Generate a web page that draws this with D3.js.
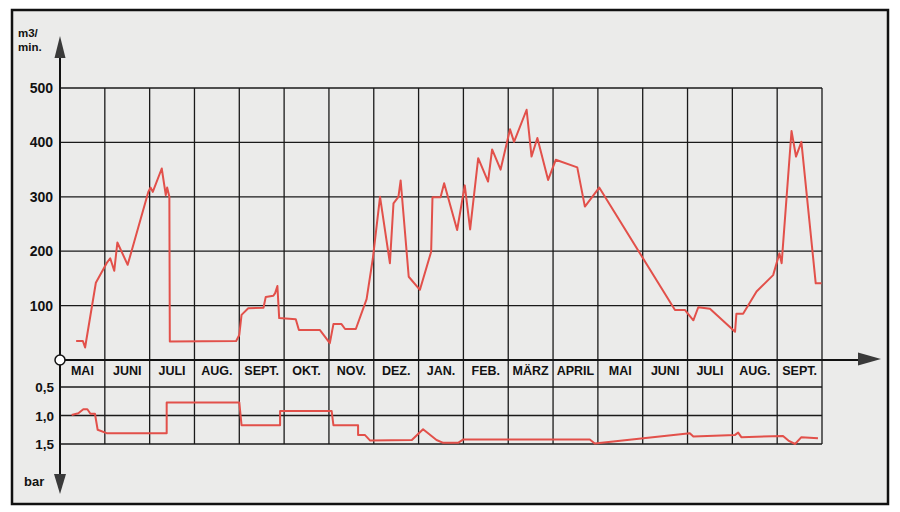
<!DOCTYPE html>
<html>
<head>
<meta charset="utf-8">
<script src="https://cdn.jsdelivr.net/npm/d3@7"></script>
<style>
  body { margin: 0; background: #fff; }
  text { font-family: "Liberation Sans", Arial, sans-serif; font-weight: bold; fill: #111; }
</style>
</head>
<body>
<div id="chart"></div>
<script>
// month columns along the x axis
var months = ["MAI", "JUNI", "JULI", "AUG.", "SEPT.", "OKT.", "NOV.", "DEZ.", "JAN.", "FEB.", "MÄRZ", "APRIL", "MAI", "JUNI", "JULI", "AUG.", "SEPT."];
var flowTicks = [100, 200, 300, 400, 500];
var barTicks = [0.5, 1.0, 1.5];
var barTickLabels = ["0,5", "1,0", "1,5"];

// air volume, m3/min (position in months from start of MAI)
var flowMonth = [0.36, 0.51, 0.56, 0.80, 1.04, 1.12, 1.21, 1.28, 1.51, 1.97, 2.02, 2.07, 2.27, 2.36, 2.39, 2.44, 2.45,
  3.93, 4.0, 4.05, 4.2, 4.54, 4.59, 4.76, 4.8, 4.85, 4.89, 5.26, 5.33, 5.8, 6.02, 6.1, 6.28, 6.36, 6.6,
  6.84, 6.98, 7.14, 7.36, 7.44, 7.55, 7.6, 7.78, 8.03, 8.28, 8.31, 8.49, 8.57, 8.86, 9.03, 9.15, 9.33,
  9.55, 9.64, 9.83, 10.04, 10.13, 10.41, 10.52, 10.65, 10.89, 11.06, 11.54, 11.71, 12.03,
  13.72, 13.94, 14.13, 14.24, 14.5, 15.06, 15.09, 15.24, 15.54, 15.91, 16.05, 16.1, 16.32, 16.42, 16.54, 16.86, 16.99];
var flowValue = [35, 35, 23, 142, 178, 187, 164, 216, 175, 309, 317, 309, 352, 303, 317, 300, 34,
  35, 46, 83, 95, 96, 116, 118, 123, 136, 77, 75, 55, 55, 31, 66, 66, 57, 57,
  112, 187, 300, 178, 288, 300, 330, 153, 129, 199, 299, 299, 325, 239, 321, 240, 371,
  328, 387, 350, 424, 401, 460, 374, 408, 331, 368, 354, 282, 317,
  92, 92, 73, 97, 94, 52, 85, 85, 126, 156, 196, 178, 421, 374, 401, 141, 141];

// pressure, bar
var barMonth = [0.26, 0.41, 0.52, 0.61, 0.68, 0.78, 0.84, 1.04, 2.38, 2.38, 4.0, 4.05, 4.91, 4.91, 6.06, 6.1,
  6.65, 6.65, 6.8, 6.92, 7.85, 8.1, 8.4, 8.55, 8.88, 9.0, 11.82, 11.93, 14.05, 14.13, 15.06, 15.13, 15.2,
  16.13, 16.25, 16.4, 16.54, 16.91];
var barValue = [0.99, 0.96, 0.89, 0.89, 0.97, 0.97, 1.25, 1.31, 1.31, 0.77, 0.77, 1.17, 1.17, 0.92, 0.92, 1.17,
  1.17, 1.34, 1.34, 1.44, 1.43, 1.24, 1.43, 1.48, 1.48, 1.42, 1.42, 1.49, 1.31, 1.37, 1.34, 1.30, 1.38,
  1.36, 1.44, 1.5, 1.38, 1.4];

var width = 900, height = 512;
var red = "#e2504a";

var svg = d3.select("#chart").append("svg")
  .attr("width", width)
  .attr("height", height);

// panel with frame
svg.append("rect")
  .attr("x", 12).attr("y", 10)
  .attr("width", 876).attr("height", 494)
  .attr("fill", "#ebebea")
  .attr("stroke", "#111")
  .attr("stroke-width", 2.5);

var x = d3.scaleLinear().domain([0, months.length]).range([60, 822]);
var yFlow = d3.scaleLinear().domain([0, 500]).range([360, 88]);
var yBar = d3.scaleLinear().domain([0.5, 1.5]).range([387, 444]);

var grid = svg.append("g")
  .attr("stroke", "#1a1a1a")
  .attr("stroke-width", 1.3);

// vertical month lines
grid.selectAll(".v")
  .data(d3.range(1, months.length + 1))
  .enter().append("line")
  .attr("x1", d => x(d)).attr("x2", d => x(d))
  .attr("y1", yFlow(500)).attr("y2", yBar(1.5));

grid.selectAll(".hf")
  .data(flowTicks)
  .enter().append("line")
  .attr("x1", x(0)).attr("x2", x(months.length))
  .attr("y1", d => yFlow(d)).attr("y2", d => yFlow(d));

grid.selectAll(".hb")
  .data(barTicks)
  .enter().append("line")
  .attr("x1", x(0)).attr("x2", x(months.length))
  .attr("y1", d => yBar(d)).attr("y2", d => yBar(d));

// tick labels
svg.selectAll(".fl")
  .data(flowTicks)
  .enter().append("text")
  .attr("x", 53).attr("y", d => yFlow(d) + 5)
  .attr("text-anchor", "end")
  .attr("font-size", 14)
  .text(d => d);

svg.selectAll(".bl")
  .data(barTicks)
  .enter().append("text")
  .attr("x", 54).attr("y", d => yBar(d) + 5)
  .attr("text-anchor", "end")
  .attr("font-size", 13.5)
  .text((d, i) => barTickLabels[i]);

svg.selectAll(".ml")
  .data(months)
  .enter().append("text")
  .attr("x", (d, i) => x(i + 0.5))
  .attr("y", 375)
  .attr("text-anchor", "middle")
  .attr("font-size", 12.5)
  .text(d => d);

// axes with arrows
svg.append("line")
  .attr("x1", 60).attr("x2", 60).attr("y1", 50).attr("y2", 482)
  .attr("stroke", "#111").attr("stroke-width", 2);
svg.append("line")
  .attr("x1", 60).attr("x2", 862).attr("y1", 360).attr("y2", 360)
  .attr("stroke", "#111").attr("stroke-width", 2);

svg.append("path").attr("d", "M60,36 L54.5,58 L65.5,58 Z").attr("fill", "#3a3a3a");
svg.append("path").attr("d", "M60,494 L54,474 L66,474 Z").attr("fill", "#3a3a3a");
svg.append("path").attr("d", "M881,359 L858,352.5 L858,365.5 Z").attr("fill", "#3a3a3a");

svg.append("circle")
  .attr("cx", 60).attr("cy", 360).attr("r", 5)
  .attr("fill", "#fff").attr("stroke", "#111").attr("stroke-width", 1.5);

// unit labels
svg.append("text").attr("x", 18).attr("y", 37).attr("font-size", 11.5).text("m3/");
svg.append("text").attr("x", 18).attr("y", 51).attr("font-size", 11.5).text("min.");
svg.append("text").attr("x", 24).attr("y", 486).attr("font-size", 13).text("bar");

// data lines
var flowLine = d3.line()
  .x((d, i) => x(flowMonth[i]))
  .y(d => yFlow(d));

svg.append("path")
  .datum(flowValue)
  .attr("d", flowLine)
  .attr("fill", "none")
  .attr("stroke", red)
  .attr("stroke-width", 2)
  .attr("stroke-linejoin", "round");

var barLine = d3.line()
  .x((d, i) => x(barMonth[i]))
  .y(d => yBar(d));

svg.append("path")
  .datum(barValue)
  .attr("d", barLine)
  .attr("fill", "none")
  .attr("stroke", red)
  .attr("stroke-width", 2)
  .attr("stroke-linejoin", "round");
</script>
</body>
</html>
